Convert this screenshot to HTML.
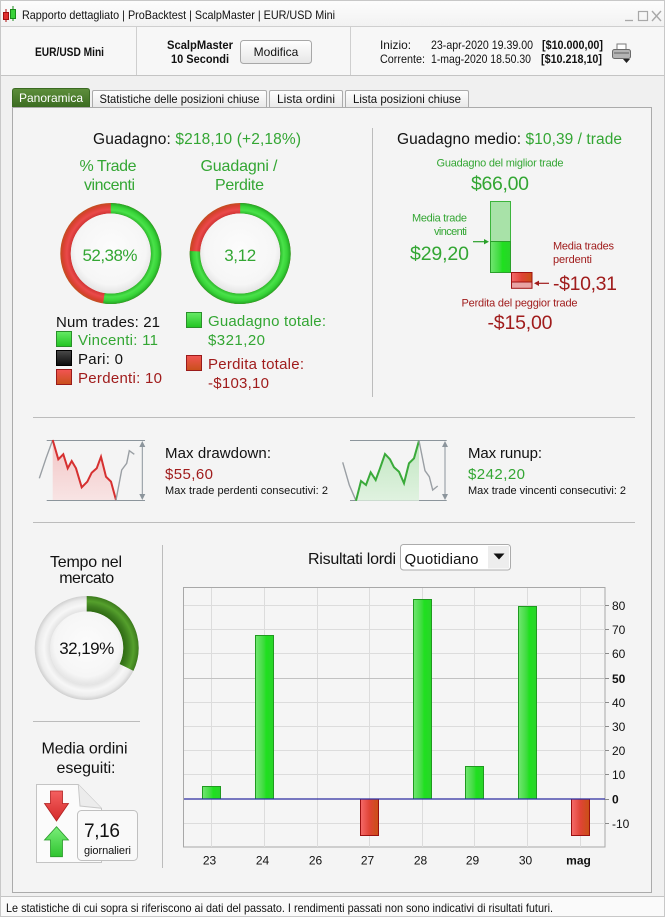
<!DOCTYPE html>
<html><head><meta charset="utf-8">
<style>
html,body{margin:0;padding:0;background:#f0f0f0;}
svg{display:block;font-family:"Liberation Sans",Arial,sans-serif;}
</style></head>
<body>
<svg width="665" height="917" viewBox="0 0 665 917" xmlns="http://www.w3.org/2000/svg">
<defs>
  <linearGradient id="gbar" x1="0" y1="0" x2="1" y2="0">
    <stop offset="0" stop-color="#72e672"/><stop offset="0.45" stop-color="#3edc3e"/><stop offset="0.6" stop-color="#1fe01f"/><stop offset="1" stop-color="#2ad42a"/>
  </linearGradient>
  <linearGradient id="rbar" x1="0" y1="0" x2="1" y2="0">
    <stop offset="0" stop-color="#f56a6a"/><stop offset="0.5" stop-color="#e04436"/><stop offset="1" stop-color="#c85014"/>
  </linearGradient>
  <linearGradient id="gsq" x1="0" y1="0" x2="0" y2="1">
    <stop offset="0" stop-color="#66ea66"/><stop offset="1" stop-color="#22c422"/>
  </linearGradient>
  <linearGradient id="ksq" x1="0" y1="0" x2="0" y2="1">
    <stop offset="0" stop-color="#4a4a4a"/><stop offset="1" stop-color="#0a0a0a"/>
  </linearGradient>
  <linearGradient id="rsq" x1="0" y1="0" x2="0" y2="1">
    <stop offset="0" stop-color="#f25454"/><stop offset="1" stop-color="#c8501a"/>
  </linearGradient>
  <linearGradient id="tabg" x1="0" y1="0" x2="0" y2="1">
    <stop offset="0" stop-color="#5e8f3c"/><stop offset="1" stop-color="#3c6c22"/>
  </linearGradient>
  <linearGradient id="tabw" x1="0" y1="0" x2="0" y2="1">
    <stop offset="0" stop-color="#ffffff"/><stop offset="1" stop-color="#e9e9e9"/>
  </linearGradient>
  <linearGradient id="btn" x1="0" y1="0" x2="0" y2="1">
    <stop offset="0" stop-color="#ffffff"/><stop offset="1" stop-color="#e6e6e6"/>
  </linearGradient>
  <linearGradient id="ttl" x1="0" y1="0" x2="0" y2="1">
    <stop offset="0" stop-color="#fdfdfd"/><stop offset="1" stop-color="#f2f2f2"/>
  </linearGradient>
  <radialGradient id="gring" cx="0.5" cy="0.5" r="0.558">
    <stop offset="0.79" stop-color="#2cb82c"/><stop offset="0.86" stop-color="#4ae24a"/><stop offset="0.93" stop-color="#38d438"/><stop offset="1" stop-color="#24a424"/>
  </radialGradient>
  <radialGradient id="rring" cx="0.5" cy="0.5" r="0.558">
    <stop offset="0.79" stop-color="#d03434"/><stop offset="0.87" stop-color="#ea4a4a"/><stop offset="0.95" stop-color="#d84030"/><stop offset="1" stop-color="#c0501e"/>
  </radialGradient>
  <radialGradient id="disc" cx="0.5" cy="0.45" r="0.55">
    <stop offset="0" stop-color="#fcfcfc"/><stop offset="0.8" stop-color="#f6f6f6"/><stop offset="1" stop-color="#e4e4e4"/>
  </radialGradient>
  <radialGradient id="grey" cx="0.5" cy="0.5" r="0.5876">
    <stop offset="0.70" stop-color="#e2e2e2"/><stop offset="0.82" stop-color="#f7f7f7"/><stop offset="0.92" stop-color="#ececec"/><stop offset="1" stop-color="#cfcfcf"/>
  </radialGradient>
  <radialGradient id="dgreen" cx="0.5" cy="0.5" r="0.5876">
    <stop offset="0.70" stop-color="#2e6a12"/><stop offset="0.8" stop-color="#3f8020"/><stop offset="0.9" stop-color="#55a02c"/><stop offset="1" stop-color="#3c7a1c"/>
  </radialGradient>
  <linearGradient id="ddfill" x1="0" y1="0" x2="0" y2="1">
    <stop offset="0" stop-color="#f2c4c4"/><stop offset="1" stop-color="#f8e4e4"/>
  </linearGradient>
  <linearGradient id="rufill" x1="0" y1="0" x2="0" y2="1">
    <stop offset="0" stop-color="#bfe6bf"/><stop offset="1" stop-color="#e0f2e0"/>
  </linearGradient>
  <linearGradient id="rarrow" x1="0" y1="0" x2="0" y2="1">
    <stop offset="0" stop-color="#f46060"/><stop offset="1" stop-color="#d42a2a"/>
  </linearGradient>
  <linearGradient id="garrow" x1="0" y1="0" x2="0" y2="1">
    <stop offset="0" stop-color="#7aee7a"/><stop offset="1" stop-color="#2fc42f"/>
  </linearGradient>
</defs>

<!-- window background -->
<rect x="0" y="0" width="665" height="917" fill="#f0f0f0"/>
<!-- title bar -->
<rect x="0" y="0" width="665" height="26" fill="url(#ttl)"/>
<line x1="0" y1="26.5" x2="665" y2="26.5" stroke="#cfcfcf"/>
<!-- app icon -->
<line x1="6" y1="9" x2="6" y2="22" stroke="#b01010"/>
<rect x="3.5" y="12.5" width="5" height="7" fill="#e03030" stroke="#a01010"/>
<line x1="13" y1="6" x2="13" y2="21" stroke="#1a8a1a"/>
<rect x="10.5" y="9.5" width="5" height="9" fill="#3ad23a" stroke="#1a8a1a"/>
<text x="22" y="19" font-size="12" fill="#111" textLength="313" lengthAdjust="spacingAndGlyphs">Rapporto dettagliato | ProBacktest | ScalpMaster | EUR/USD Mini</text>
<!-- window controls -->
<line x1="625" y1="20.5" x2="633" y2="20.5" stroke="#a8a8a8" stroke-width="1.3"/>
<rect x="638.5" y="11.5" width="9" height="9" fill="none" stroke="#a8a8a8" stroke-width="1.2"/>
<path d="M652 11 L661 21 M661 11 L652 21" stroke="#a8a8a8" stroke-width="1.4"/>

<!-- header row -->
<rect x="0" y="27" width="665" height="48" fill="#f7f7f7"/>
<line x1="0" y1="75.5" x2="665" y2="75.5" stroke="#c4c4c4"/>
<line x1="136.5" y1="27" x2="136.5" y2="75" stroke="#cfcfcf"/>
<line x1="350.5" y1="27" x2="350.5" y2="75" stroke="#cfcfcf"/>
<text x="35" y="56" font-size="12" font-weight="bold" fill="#111" textLength="69" lengthAdjust="spacingAndGlyphs">EUR/USD Mini</text>
<text x="200" y="49" font-size="12" font-weight="bold" fill="#111" text-anchor="middle" textLength="66" lengthAdjust="spacingAndGlyphs">ScalpMaster</text>
<text x="200" y="63" font-size="12" font-weight="bold" fill="#111" text-anchor="middle" textLength="58" lengthAdjust="spacingAndGlyphs">10 Secondi</text>
<rect x="240.5" y="40.5" width="71" height="23" rx="3" fill="url(#btn)" stroke="#a8a8a8"/>
<text x="276" y="56" font-size="12" fill="#111" text-anchor="middle">Modifica</text>
<text x="380" y="49" font-size="12" fill="#111" textLength="31" lengthAdjust="spacingAndGlyphs">Inizio:</text>
<text x="431" y="49" font-size="12" fill="#111" textLength="102" lengthAdjust="spacingAndGlyphs">23-apr-2020 19.39.00</text>
<text x="542" y="49" font-size="12" font-weight="bold" fill="#111" textLength="61" lengthAdjust="spacingAndGlyphs">[$10.000,00]</text>
<text x="380" y="63" font-size="12" fill="#111" textLength="45" lengthAdjust="spacingAndGlyphs">Corrente:</text>
<text x="431" y="63" font-size="12" fill="#111" textLength="100" lengthAdjust="spacingAndGlyphs">1-mag-2020 18.50.30</text>
<text x="541" y="63" font-size="12" font-weight="bold" fill="#111" textLength="61" lengthAdjust="spacingAndGlyphs">[$10.218,10]</text>
<!-- printer icon -->
<rect x="617" y="44" width="9" height="6" fill="#fff" stroke="#7a7a7a"/>
<rect x="612.5" y="49.5" width="18" height="9" rx="2" fill="#b4b4b4" stroke="#6a6a6a"/>
<rect x="614" y="52" width="15" height="2" fill="#8a8a8a"/>
<path d="M623 59 L630 59 L626.5 63 Z" fill="#222"/>

<!-- tabs -->
<path d="M12.5 107 L12.5 91 Q12.5 88.5 15 88.5 L87 88.5 Q89.5 88.5 89.5 91 L89.5 107 Z" fill="url(#tabg)" stroke="#3a6a22"/>
<text x="51" y="102" font-size="12" fill="#fff" text-anchor="middle" textLength="64" lengthAdjust="spacingAndGlyphs">Panoramica</text>
<path d="M92.5 107 L92.5 92 Q92.5 90.5 94 90.5 L265 90.5 Q266.5 90.5 266.5 92 L266.5 107" fill="url(#tabw)" stroke="#ababab"/>
<text x="179.5" y="103" font-size="12" fill="#111" text-anchor="middle" textLength="160" lengthAdjust="spacingAndGlyphs">Statistiche delle posizioni chiuse</text>
<path d="M269.5 107 L269.5 92 Q269.5 90.5 271 90.5 L341 90.5 Q342.5 90.5 342.5 92 L342.5 107" fill="url(#tabw)" stroke="#ababab"/>
<text x="306" y="103" font-size="12" fill="#111" text-anchor="middle" textLength="58" lengthAdjust="spacingAndGlyphs">Lista ordini</text>
<path d="M345.5 107 L345.5 92 Q345.5 90.5 347 90.5 L467 90.5 Q468.5 90.5 468.5 92 L468.5 107" fill="url(#tabw)" stroke="#ababab"/>
<text x="407" y="103" font-size="12" fill="#111" text-anchor="middle" textLength="108" lengthAdjust="spacingAndGlyphs">Lista posizioni chiuse</text>

<!-- panel -->
<rect x="12.5" y="107.5" width="639" height="785" fill="#f4f4f4" stroke="#ababab"/>

<!-- ===== Section 1 left ===== -->
<text x="93" y="144" font-size="15.5" fill="#111" textLength="208"><tspan>Guadagno: </tspan><tspan fill="#33a633">$218,10 (+2,18%)</tspan></text>
<text x="108" y="171" font-size="16" fill="#33a633" text-anchor="middle" textLength="57">% Trade</text>
<text x="109.5" y="190" font-size="16" fill="#33a633" text-anchor="middle" textLength="51">vincenti</text>
<text x="239" y="171" font-size="16" fill="#33a633" text-anchor="middle" textLength="77">Guadagni /</text>
<text x="239.5" y="190" font-size="16" fill="#33a633" text-anchor="middle" textLength="49">Perdite</text>

<!-- donut 1 -->
<circle cx="110.8" cy="253.5" r="45.25" fill="none" stroke="url(#rring)" stroke-width="10.5"/>
<circle cx="110.8" cy="253.5" r="45.25" fill="none" stroke="url(#gring)" stroke-width="10.5" stroke-dasharray="148.9 400" transform="rotate(-90 110.8 253.5)"/>
<circle cx="110.8" cy="253.5" r="40" fill="url(#disc)"/>
<text x="110" y="261" font-size="17" fill="#33a633" text-anchor="middle" textLength="55">52,38%</text>
<!-- donut 2 -->
<circle cx="240.2" cy="253.5" r="45.25" fill="none" stroke="url(#rring)" stroke-width="10.5"/>
<circle cx="240.2" cy="253.5" r="45.25" fill="none" stroke="url(#gring)" stroke-width="10.5" stroke-dasharray="215.2 400" transform="rotate(-90 240.2 253.5)"/>
<circle cx="240.2" cy="253.5" r="40" fill="url(#disc)"/>
<text x="240.2" y="261" font-size="17" fill="#33a633" text-anchor="middle" textLength="32">3,12</text>

<!-- legend left -->
<text x="56" y="327" font-size="15" fill="#111" textLength="104">Num trades: 21</text>
<rect x="56.5" y="331.5" width="15" height="15" fill="url(#gsq)" stroke="#2a8f2a"/>
<text x="78" y="345" font-size="15" fill="#33a633" textLength="80">Vincenti: 11</text>
<rect x="56.5" y="350.5" width="15" height="15" fill="url(#ksq)" stroke="#000"/>
<text x="78" y="364" font-size="15" fill="#111" textLength="45">Pari: 0</text>
<rect x="56.5" y="369.5" width="15" height="15" fill="url(#rsq)" stroke="#9a1a1a"/>
<text x="78" y="383" font-size="15" fill="#a01c1c" textLength="84">Perdenti: 10</text>
<!-- legend right -->
<rect x="186.5" y="312.5" width="15" height="15" fill="url(#gsq)" stroke="#2a8f2a"/>
<text x="208" y="326" font-size="15" fill="#33a633" textLength="118">Guadagno totale:</text>
<text x="208" y="345" font-size="15" fill="#33a633" textLength="57">$321,20</text>
<rect x="186.5" y="355.5" width="15" height="15" fill="url(#rsq)" stroke="#9a1a1a"/>
<text x="208" y="369" font-size="15" fill="#a01c1c" textLength="96">Perdita totale:</text>
<text x="208" y="388" font-size="15" fill="#a01c1c" textLength="61">-$103,10</text>

<!-- vertical divider -->
<line x1="372.5" y1="128" x2="372.5" y2="397" stroke="#bcbcbc"/>

<!-- ===== Section 1 right ===== -->
<text x="397" y="144" font-size="15.5" fill="#111" textLength="225"><tspan>Guadagno medio: </tspan><tspan fill="#33a633">$10,39 / trade</tspan></text>
<text x="500" y="166.5" font-size="11" fill="#33a633" text-anchor="middle" textLength="127">Guadagno del miglior trade</text>
<text x="500" y="190" font-size="19.5" fill="#33a633" text-anchor="middle" textLength="58">$66,00</text>
<rect x="490.5" y="201.5" width="20" height="40" fill="#a8e2a8" stroke="#3cb43c"/>
<rect x="490.5" y="241.5" width="20" height="31" fill="url(#gbar)" stroke="#2aa02a"/>
<rect x="511.5" y="272.5" width="20.5" height="9.5" fill="url(#rbar)" stroke="#a01212"/>
<rect x="511.5" y="282" width="20.5" height="6.3" fill="#e8a4a4" stroke="#a01212"/>
<text x="467" y="221.5" font-size="11" fill="#33a633" text-anchor="end" textLength="55">Media trade</text>
<text x="467" y="235" font-size="11" fill="#33a633" text-anchor="end" textLength="33">vincenti</text>
<line x1="473" y1="241.7" x2="486" y2="241.7" stroke="#2aa02a" stroke-width="1.2"/>
<path d="M489 241.7 L484 239 L484 244.4 Z" fill="#2aa02a"/>
<text x="469" y="260" font-size="19.5" fill="#33a633" text-anchor="end" textLength="59">$29,20</text>
<text x="553" y="249.5" font-size="11" fill="#a01c1c" textLength="61">Media trades</text>
<text x="553" y="263" font-size="11" fill="#a01c1c" textLength="39">perdenti</text>
<line x1="537" y1="283.3" x2="549" y2="283.3" stroke="#a01c1c" stroke-width="1.2"/>
<path d="M534 283.3 L539 280.6 L539 286 Z" fill="#a01c1c"/>
<text x="553" y="290" font-size="19.5" fill="#a01c1c" textLength="64">-$10,31</text>
<text x="519.5" y="306.5" font-size="11" fill="#a01c1c" text-anchor="middle" textLength="116">Perdita del peggior trade</text>
<text x="520" y="329" font-size="19.5" fill="#a01c1c" text-anchor="middle" textLength="65">-$15,00</text>

<!-- separators -->
<line x1="33" y1="417.5" x2="635" y2="417.5" stroke="#bcbcbc"/>
<line x1="33" y1="522.5" x2="635" y2="522.5" stroke="#bcbcbc"/>

<!-- ===== Section 2: drawdown ===== -->
<line x1="46.7" y1="440.5" x2="145" y2="440.5" stroke="#8c959c"/>
<line x1="46.7" y1="500.5" x2="145" y2="500.5" stroke="#8c959c"/>
<line x1="142.3" y1="444" x2="142.3" y2="497" stroke="#8c959c"/>
<path d="M142.3 441 L139.3 447 L145.3 447 Z M142.3 500 L139.3 494 L145.3 494 Z" fill="#8c959c"/>
<path d="M52.7 440 L58.3 459.3 L63.3 454.3 L67.7 468.3 L71.7 461 L76 468.3 L81.7 487.3 L87.3 481.7 L91.7 472.7 L96.7 468.3 L101 456.7 L106 476.7 L111 481.7 L116 500 L52.7 500 Z" fill="url(#ddfill)"/>
<polyline points="39.3,478.3 46,458.3 52.7,440" fill="none" stroke="#9a9fa4" stroke-width="1.4"/>
<polyline points="52.7,440 58.3,459.3 63.3,454.3 67.7,468.3 71.7,461 76,468.3 81.7,487.3 87.3,481.7 91.7,472.7 96.7,468.3 101,456.7 106,476.7 111,481.7 116,500" fill="none" stroke="#d63030" stroke-width="2"/>
<polyline points="116,500 121.7,470 126.7,463.3 129.3,450.7 134.3,454.3" fill="none" stroke="#9a9fa4" stroke-width="1.4"/>
<text x="165" y="458" font-size="15" fill="#111" textLength="106">Max drawdown:</text>
<text x="165" y="479" font-size="15" fill="#a01c1c" textLength="48">$55,60</text>
<text x="165" y="494" font-size="11" fill="#111" textLength="163">Max trade perdenti consecutivi:  2</text>

<!-- runup -->
<line x1="350" y1="440.5" x2="446.7" y2="440.5" stroke="#8c959c"/>
<line x1="350" y1="500.5" x2="446.7" y2="500.5" stroke="#8c959c"/>
<line x1="445" y1="444" x2="445" y2="497" stroke="#8c959c"/>
<path d="M445 441 L442 447 L448 447 Z M445 500 L442 494 L448 494 Z" fill="#8c959c"/>
<path d="M356 500.7 L361 481 L366 485 L370.7 472.3 L375.7 480 L380 468.3 L385 454 L390 459.3 L394 467.3 L399 471.7 L404 483.3 L409 463.3 L414 458.3 L419 440.7 L419 500.7 Z" fill="url(#rufill)"/>
<polyline points="342.7,462.3 349.3,485 356,500.7" fill="none" stroke="#9a9fa4" stroke-width="1.4"/>
<polyline points="356,500.7 361,481 366,485 370.7,472.3 375.7,480 380,468.3 385,454 390,459.3 394,467.3 399,471.7 404,483.3 409,463.3 414,458.3 419,440.7" fill="none" stroke="#3aaa3a" stroke-width="2"/>
<polyline points="419,440.7 425,470.7 429.3,476.7 432.7,490 437.7,486" fill="none" stroke="#9a9fa4" stroke-width="1.4"/>
<text x="468" y="458" font-size="15" fill="#111" textLength="74">Max runup:</text>
<text x="468" y="479" font-size="15" fill="#33a633" textLength="57">$242,20</text>
<text x="468" y="494" font-size="11" fill="#111" textLength="158">Max trade vincenti consecutivi: 2</text>

<!-- ===== Section 3 left ===== -->
<text x="86" y="567" font-size="16" fill="#111" text-anchor="middle" textLength="72">Tempo nel</text>
<text x="86.7" y="583" font-size="16" fill="#111" text-anchor="middle" textLength="55">mercato</text>
<circle cx="86.7" cy="648" r="44.25" fill="none" stroke="url(#grey)" stroke-width="15.5"/>
<circle cx="86.7" cy="648" r="44.25" fill="none" stroke="url(#dgreen)" stroke-width="15.5" stroke-dasharray="89.5 400" transform="rotate(-90 86.7 648)"/>
<circle cx="86.7" cy="648" r="36.5" fill="url(#disc)"/>
<text x="86.7" y="654" font-size="17" fill="#111" text-anchor="middle" textLength="55">32,19%</text>

<line x1="33" y1="721.5" x2="140" y2="721.5" stroke="#bcbcbc"/>
<line x1="162.5" y1="545" x2="162.5" y2="868" stroke="#bcbcbc"/>

<text x="84.5" y="753.5" font-size="16" fill="#111" text-anchor="middle" textLength="86">Media ordini</text>
<text x="86" y="773" font-size="16" fill="#111" text-anchor="middle" textLength="59">eseguiti:</text>
<!-- document icon -->
<path d="M36.5 784.5 L78.3 784.5 L101.5 808.3 L101.5 862.5 L36.5 862.5 Z" fill="#fbfbfb" stroke="#c4c4c4"/>
<path d="M78.3 784.5 L80 806 L101.5 808.3" fill="#ececec" stroke="#c8c8c8"/>
<path d="M50.5 791 L62.5 791 L62.5 803.5 L68.5 803.5 L56.5 821 L44.5 803.5 L50.5 803.5 Z" fill="url(#rarrow)" stroke="#b02020" stroke-width="0.8"/>
<path d="M56.5 826.7 L68.5 840 L62.5 840 L62.5 856.7 L50.5 856.7 L50.5 840 L44.5 840 Z" fill="url(#garrow)" stroke="#2a9a2a" stroke-width="0.8"/>
<rect x="77.5" y="810.5" width="60" height="50" rx="4" fill="#f9f9f9" stroke="#c0c0c0"/>
<text x="84" y="837" font-size="19" fill="#111" textLength="36">7,16</text>
<text x="84" y="854" font-size="11" fill="#111" textLength="47">giornalieri</text>

<!-- ===== Chart ===== -->
<text x="308" y="564" font-size="16" fill="#111" textLength="88">Risultati lordi</text>
<rect x="400.5" y="544.5" width="110" height="25.5" rx="3" fill="#fff" stroke="#ababab"/>
<rect x="488" y="546" width="21" height="22.5" fill="#ededed"/>
<text x="404.5" y="564" font-size="15" fill="#111" textLength="74">Quotidiano</text>
<path d="M493.5 553.5 L504.5 553.5 L499 559.5 Z" fill="#111"/>

<rect x="183.5" y="587.5" width="421.5" height="259.5" fill="#f5f5f5" stroke="#a8a8a8"/>
<!-- vertical grid -->
<g stroke="#dcdcdc" stroke-width="1">
  <line x1="211.5" y1="588" x2="211.5" y2="847"/>
  <line x1="264.5" y1="588" x2="264.5" y2="847"/>
  <line x1="317.5" y1="588" x2="317.5" y2="847"/>
  <line x1="369.5" y1="588" x2="369.5" y2="847"/>
  <line x1="422.5" y1="588" x2="422.5" y2="847"/>
  <line x1="474.5" y1="588" x2="474.5" y2="847"/>
  <line x1="527.5" y1="588" x2="527.5" y2="847"/>
  <line x1="580.5" y1="588" x2="580.5" y2="847"/>
</g>
<!-- horizontal grid -->
<g stroke="#dcdcdc" stroke-width="1">
  <line x1="184" y1="605.5" x2="605" y2="605.5"/>
  <line x1="184" y1="629.5" x2="605" y2="629.5"/>
  <line x1="184" y1="653.5" x2="605" y2="653.5"/>
  <line x1="184" y1="702.5" x2="605" y2="702.5"/>
  <line x1="184" y1="726.5" x2="605" y2="726.5"/>
  <line x1="184" y1="750.5" x2="605" y2="750.5"/>
  <line x1="184" y1="774.5" x2="605" y2="774.5"/>
  <line x1="184" y1="823.5" x2="605" y2="823.5"/>
</g>
<line x1="184" y1="678.5" x2="605" y2="678.5" stroke="#c2c2c2"/>
<!-- bars -->
<g stroke-width="1">
  <rect x="202.5" y="786.5" width="18" height="12.5" fill="url(#gbar)" stroke="#1f9a1f"/>
  <rect x="255.5" y="635.5" width="18" height="163.5" fill="url(#gbar)" stroke="#1f9a1f"/>
  <rect x="360.5" y="799" width="18" height="36.5" fill="url(#rbar)" stroke="#9a1010"/>
  <rect x="413.5" y="599.5" width="18" height="199.5" fill="url(#gbar)" stroke="#1f9a1f"/>
  <rect x="465.5" y="766.5" width="18" height="32.5" fill="url(#gbar)" stroke="#1f9a1f"/>
  <rect x="518.5" y="606.5" width="18" height="192.5" fill="url(#gbar)" stroke="#1f9a1f"/>
  <rect x="571.5" y="799" width="18" height="36.5" fill="url(#rbar)" stroke="#9a1010"/>
</g>
<line x1="184" y1="799" x2="605" y2="799" stroke="#2c2ca0" stroke-width="1.3"/>
<!-- y ticks -->
<g stroke="#8a8a8a">
  <line x1="605" y1="605.5" x2="609" y2="605.5"/>
  <line x1="605" y1="629.5" x2="609" y2="629.5"/>
  <line x1="605" y1="653.5" x2="609" y2="653.5"/>
  <line x1="605" y1="678.5" x2="609" y2="678.5"/>
  <line x1="605" y1="702.5" x2="609" y2="702.5"/>
  <line x1="605" y1="726.5" x2="609" y2="726.5"/>
  <line x1="605" y1="750.5" x2="609" y2="750.5"/>
  <line x1="605" y1="774.5" x2="609" y2="774.5"/>
  <line x1="605" y1="799.5" x2="609" y2="799.5"/>
  <line x1="605" y1="823.5" x2="609" y2="823.5"/>
</g>
<g font-size="12" fill="#111">
  <text x="612" y="610">80</text>
  <text x="612" y="634">70</text>
  <text x="612" y="658">60</text>
  <text x="612" y="683" font-weight="bold">50</text>
  <text x="612" y="707">40</text>
  <text x="612" y="731">30</text>
  <text x="612" y="755">20</text>
  <text x="612" y="779">10</text>
  <text x="612" y="803.5" font-weight="bold">0</text>
  <text x="612" y="828">-10</text>
</g>
<g font-size="12" fill="#111" text-anchor="middle">
  <text x="209.5" y="864.5">23</text>
  <text x="262.5" y="864.5">24</text>
  <text x="315.5" y="864.5">26</text>
  <text x="367.5" y="864.5">27</text>
  <text x="420.5" y="864.5">28</text>
  <text x="472.5" y="864.5">29</text>
  <text x="525.5" y="864.5">30</text>
  <text x="578.5" y="864.5" font-weight="bold">mag</text>
</g>

<!-- footer -->
<line x1="0" y1="896.5" x2="665" y2="896.5" stroke="#c4c4c4"/>
<rect x="0" y="897" width="665" height="20" fill="#fafafa"/>
<text x="6" y="912" font-size="12" fill="#111" textLength="547" lengthAdjust="spacingAndGlyphs">Le statistiche di cui sopra si riferiscono ai dati del passato. I rendimenti passati non sono indicativi di risultati futuri.</text>
<rect x="0.5" y="0.5" width="664" height="916" fill="none" stroke="#c8c8c8"/>
</svg>
</body></html>
